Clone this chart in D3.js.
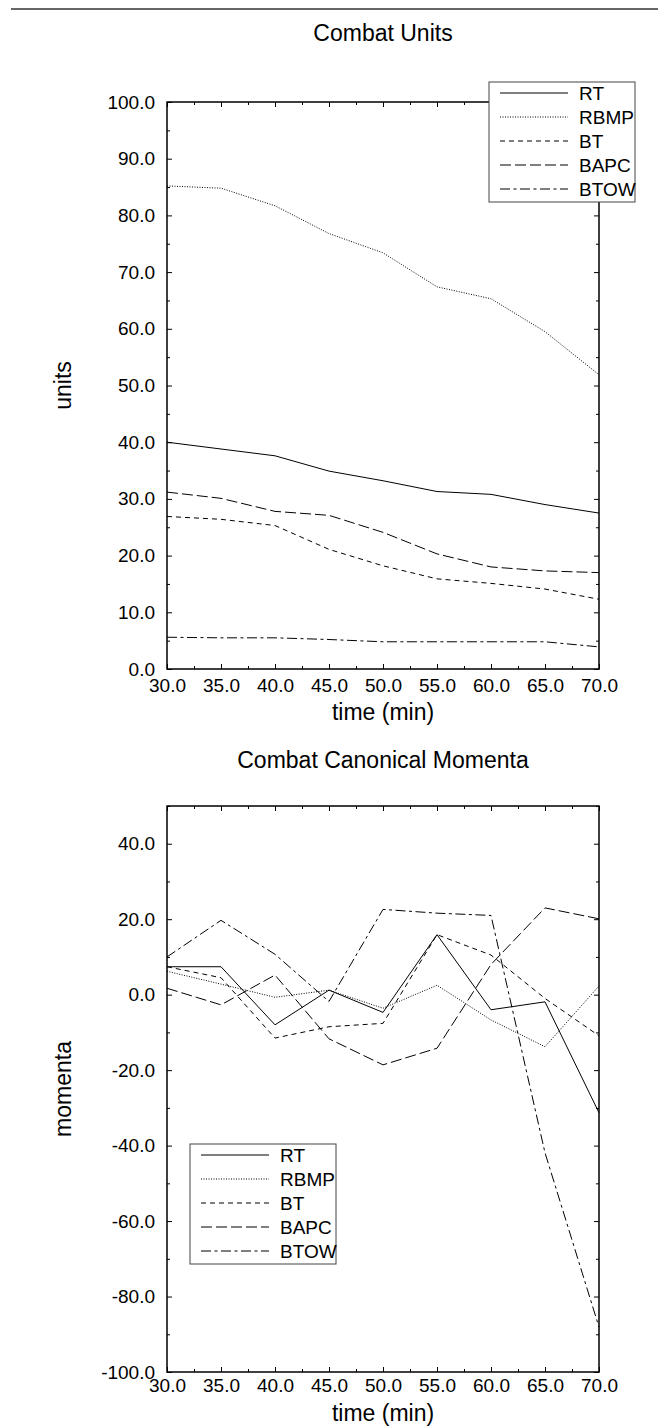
<!DOCTYPE html>
<html>
<head>
<meta charset="utf-8">
<script src="https://cdn.jsdelivr.net/npm/d3@7"></script>
<style>
	body { margin: 0; background: #fff; }
	svg { display: block; font-family: 'Liberation Sans', Arial, sans-serif; }
	.tick text { font-size: 19px; fill: #000; }
	.tick line { stroke: #000; }
</style>
</head>
<body>
<svg id="chart" width="658" height="1426"></svg>
<script>

var times = [ 30, 35, 40, 45, 50, 55, 60, 65, 70 ];
var seriesNames = [ 'RT', 'RBMP', 'BT', 'BAPC', 'BTOW' ];

// combat units
var unitsRT   = [ 40.0, 38.8, 37.6, 34.9, 33.2, 31.3, 30.8, 29.0, 27.5 ];
var unitsRBMP = [ 85.2, 84.8, 81.7, 76.8, 73.4, 67.4, 65.3, 59.5, 51.9 ];
var unitsBT   = [ 26.9, 26.4, 25.3, 21.1, 18.2, 15.9, 15.1, 14.1, 12.3 ];
var unitsBAPC = [ 31.2, 30.1, 27.8, 27.1, 24.1, 20.3, 18.0, 17.3, 17.0 ];
var unitsBTOW = [ 5.6, 5.5, 5.5, 5.2, 4.8, 4.8, 4.8, 4.8, 3.9 ];

// canonical momenta
var momRT   = [ 7.4, 7.4, -8.0, 1.2, -4.7, 15.9, -4.0, -1.9, -31.3 ];
var momRBMP = [ 6.2, 2.8, -0.7, 1.2, -3.6, 2.5, -6.7, -13.8, 2.3 ];
var momBT   = [ 7.4, 4.5, -11.5, -8.5, -7.6, 15.9, 10.5, -1.0, -10.9 ];
var momBAPC = [ 1.7, -2.7, 5.2, -11.7, -18.6, -14.2, 8.0, 23.0, 20.1 ];
var momBTOW = [ 10.0, 19.7, 10.7, -1.8, 22.6, 21.6, 21.0, -41.9, -88.1 ];

var xTicks = [ 30, 35, 40, 45, 50, 55, 60, 65, 70 ];
var xMinor = [ 32.5, 37.5, 42.5, 47.5, 52.5, 57.5, 62.5, 67.5 ];
var unitsTicks = [ 0, 10, 20, 30, 40, 50, 60, 70, 80, 90, 100 ];
var unitsMinor = [ 5, 15, 25, 35, 45, 55, 65, 75, 85, 95 ];
var momTicks = [ -100, -80, -60, -40, -20, 0, 20, 40 ];
var momMinor = [ -90, -70, -50, -30, -10, 10, 30, 50 ];

var dashes = {
	'RT': null,
	'RBMP': '1,1.5',
	'BT': '5,4',
	'BAPC': '11,4',
	'BTOW': '10,3.5,3,3.5'
};

var svg = d3.select( '#chart' );

svg.append( 'line' )
	.attr( 'x1', 11 ).attr( 'x2', 658 )
	.attr( 'y1', 9 ).attr( 'y2', 9 )
	.attr( 'stroke', '#666' )
	.attr( 'stroke-width', 2 );

// plain hyphen for negatives, like the original
var fmt = function ( d ) { return d3.format( '.1f' )( d ).replace( '\u2212', '-' ); };

var drawPanel = function ( opts ) {

	var left = 167, right = 599;
	var width = right - left;
	var height = opts.bottom - opts.top;

	var x = d3.scaleLinear().domain( [ 30, 70 ] ).range( [ 0, width ] );
	var y = d3.scaleLinear().domain( opts.yDomain ).range( [ height, 0 ] );

	svg.append( 'text' )
		.attr( 'x', left + width / 2 )
		.attr( 'y', opts.titleY )
		.attr( 'text-anchor', 'middle' )
		.style( 'font-size', '23px' )
		.text( opts.title );

	svg.append( 'text' )
		.attr( 'transform', 'translate(71,' + ( opts.top + height / 2 ) + ') rotate(-90)' )
		.attr( 'text-anchor', 'middle' )
		.style( 'font-size', '23px' )
		.text( opts.yLabel );

	svg.append( 'text' )
		.attr( 'x', left + width / 2 )
		.attr( 'y', opts.xLabelY )
		.attr( 'text-anchor', 'middle' )
		.style( 'font-size', '23px' )
		.text( 'time (min)' );

	var g = svg.append( 'g' )
		.attr( 'transform', 'translate(' + left + ',' + opts.top + ')' );

	// labelled axes
	g.append( 'g' )
		.attr( 'transform', 'translate(0,' + height + ')' )
		.call( d3.axisBottom( x ).tickValues( xTicks ).tickSize( -5 ).tickSizeOuter( 0 ).tickPadding( opts.xPad ).tickFormat( fmt ) )
		.call( function ( a ) { a.select( '.domain' ).remove(); } );
	g.append( 'g' )
		.call( d3.axisLeft( y ).tickValues( opts.yTicks ).tickSize( -5 ).tickSizeOuter( 0 ).tickPadding( 12 ).tickFormat( fmt ) )
		.call( function ( a ) { a.select( '.domain' ).remove(); } );

	// mirrored and minor ticks
	var noLabel = function ( a ) { a.select( '.domain' ).remove(); a.selectAll( 'text' ).remove(); };
	g.append( 'g' ).call( d3.axisTop( x ).tickValues( xTicks ).tickSize( -5 ).tickSizeOuter( 0 ) ).call( noLabel );
	g.append( 'g' ).attr( 'transform', 'translate(' + width + ',0)' )
		.call( d3.axisRight( y ).tickValues( opts.yTicks ).tickSize( -5 ).tickSizeOuter( 0 ) ).call( noLabel );
	g.append( 'g' ).attr( 'transform', 'translate(0,' + height + ')' )
		.call( d3.axisBottom( x ).tickValues( xMinor ).tickSize( -3 ).tickSizeOuter( 0 ) ).call( noLabel );
	g.append( 'g' ).call( d3.axisTop( x ).tickValues( xMinor ).tickSize( -3 ).tickSizeOuter( 0 ) ).call( noLabel );
	g.append( 'g' ).call( d3.axisLeft( y ).tickValues( opts.yMinor ).tickSize( -3 ).tickSizeOuter( 0 ) ).call( noLabel );
	g.append( 'g' ).attr( 'transform', 'translate(' + width + ',0)' )
		.call( d3.axisRight( y ).tickValues( opts.yMinor ).tickSize( -3 ).tickSizeOuter( 0 ) ).call( noLabel );

	g.append( 'rect' )
		.attr( 'width', width )
		.attr( 'height', height )
		.attr( 'fill', 'none' )
		.attr( 'stroke', '#000' )
		.attr( 'stroke-width', 1.5 );

	var line = d3.line()
		.x( function ( d ) { return x( d.t ); } )
		.y( function ( d ) { return y( d.v ); } );

	seriesNames.forEach( function ( name, i ) {
		var pts = times.map( function ( t, j ) { return { t: t, v: opts.series[i][j] }; } );
		g.append( 'path' )
			.datum( pts )
			.attr( 'd', line )
			.attr( 'fill', 'none' )
			.attr( 'stroke', '#000' )
			.attr( 'stroke-width', 1 )
			.attr( 'stroke-dasharray', dashes[name] );
	} );

	// legend box
	var lg = svg.append( 'g' )
		.attr( 'transform', 'translate(' + opts.legend[0] + ',' + opts.legend[1] + ')' );
	lg.append( 'rect' )
		.attr( 'width', 146 )
		.attr( 'height', 120 )
		.attr( 'fill', '#fff' )
		.attr( 'stroke', '#444' )
		.attr( 'stroke-width', 1 );
	seriesNames.forEach( function ( name, i ) {
		var cy = 11 + i * 24;
		lg.append( 'line' )
			.attr( 'x1', 11 ).attr( 'x2', 79 )
			.attr( 'y1', cy ).attr( 'y2', cy )
			.attr( 'stroke', '#000' )
			.attr( 'stroke-width', 1 )
			.attr( 'stroke-dasharray', dashes[name] );
		lg.append( 'text' )
			.attr( 'x', 90 )
			.attr( 'y', cy + 7 )
			.style( 'font-size', '19px' )
			.text( name );
	} );
};

drawPanel( {
	title: 'Combat Units',
	titleY: 41,
	yLabel: 'units',
	top: 102,
	bottom: 669,
	xPad: 10,
	xLabelY: 720,
	yDomain: [ 0, 100 ],
	yTicks: unitsTicks,
	yMinor: unitsMinor,
	series: [ unitsRT, unitsRBMP, unitsBT, unitsBAPC, unitsBTOW ],
	legend: [ 489, 82 ]
} );

drawPanel( {
	title: 'Combat Canonical Momenta',
	titleY: 768,
	yLabel: 'momenta',
	top: 806,
	bottom: 1372,
	xPad: 7,
	xLabelY: 1421,
	yDomain: [ -100, 50 ],
	yTicks: momTicks,
	yMinor: momMinor,
	series: [ momRT, momRBMP, momBT, momBAPC, momBTOW ],
	legend: [ 190, 1144 ]
} );

</script>
</body>
</html>
